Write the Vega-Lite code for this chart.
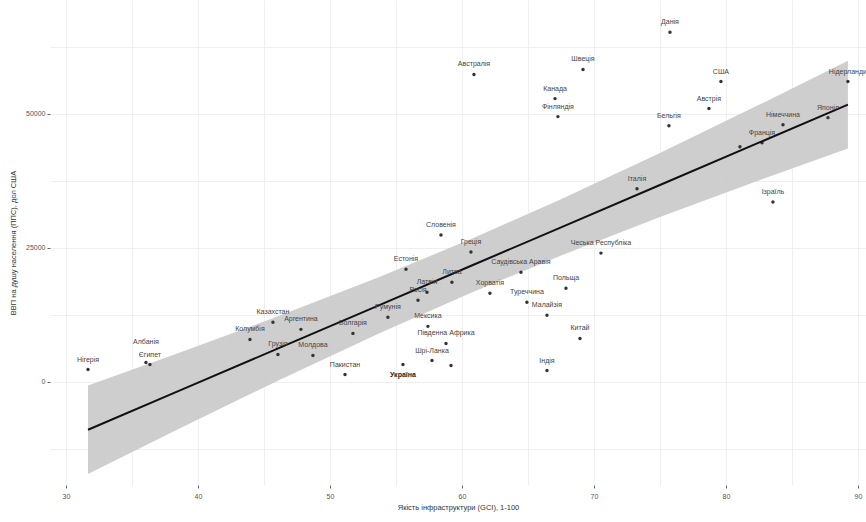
{
  "$schema": "https://vega.github.io/schema/vega-lite/v6.json",
  "width": 816,
  "height": 485,
  "autosize": {"type": "none"},
  "padding": {"left": 50, "top": 0, "right": 0, "bottom": 37},
  "background": "white",
  "config": {
    "view": {"stroke": null},
    "font": "Liberation Sans",
    "axis": {
      "domain": false,
      "gridColor": "#ebebeb",
      "gridWidth": 0.8,
      "tickColor": "#666666",
      "tickSize": 3,
      "labelFont": "Liberation Sans",
      "labelFontSize": 7,
      "labelColor": "#555555",
      "titleFont": "Liberation Sans",
      "titleFontSize": 7.5,
      "titleFontWeight": "normal",
      "titleColor": "#333333"
    }
  },
  "datasets": {
    "pts": [
      {"country": "Данія", "infra": 75.76, "gdp": 65170},
      {"country": "США", "infra": 79.62, "gdp": 55990},
      {"country": "Австрія", "infra": 78.71, "gdp": 50940},
      {"country": "Бельгія", "infra": 75.68, "gdp": 47750},
      {"country": "Нідерланди", "infra": 89.24, "gdp": 55990},
      {"country": "Німеччина", "infra": 84.32, "gdp": 47940},
      {"country": "Японія", "infra": 87.73, "gdp": 49250},
      {"country": "Франція", "infra": 82.73, "gdp": 44570},
      {"country": "", "infra": 81.06, "gdp": 43820},
      {"country": "Італія", "infra": 73.26, "gdp": 35960},
      {"country": "Ізраїль", "infra": 83.56, "gdp": 33520},
      {"country": "Австралія", "infra": 60.91, "gdp": 57300},
      {"country": "Швеція", "infra": 69.17, "gdp": 58240},
      {"country": "Канада", "infra": 67.05, "gdp": 52800},
      {"country": "Фінляндія", "infra": 67.27, "gdp": 49440},
      {"country": "Словенія", "infra": 58.41, "gdp": 27340},
      {"country": "Греція", "infra": 60.68, "gdp": 24160},
      {"country": "Естонія", "infra": 55.76, "gdp": 20970},
      {"country": "Чеська Республіка", "infra": 70.53, "gdp": 23970},
      {"country": "Саудівська Аравія", "infra": 64.47, "gdp": 20410},
      {"country": "Польща", "infra": 67.88, "gdp": 17420},
      {"country": "Хорватія", "infra": 62.12, "gdp": 16480},
      {"country": "Туреччина", "infra": 64.92, "gdp": 14790},
      {"country": "Малайзія", "infra": 66.44, "gdp": 12360},
      {"country": "Китай", "infra": 68.94, "gdp": 8050},
      {"country": "Індія", "infra": 66.44, "gdp": 2060},
      {"country": "Литва", "infra": 59.24, "gdp": 18540},
      {"country": "Латвія", "infra": 57.35, "gdp": 16670},
      {"country": "Росія", "infra": 56.67, "gdp": 15170},
      {"country": "Мексика", "infra": 57.42, "gdp": 10300},
      {"country": "Південна Африка", "infra": 58.79, "gdp": 7120},
      {"country": "Шрі-Ланка", "infra": 57.73, "gdp": 3930},
      {"country": "", "infra": 59.17, "gdp": 3000},
      {"country": "Україна", "infra": 55.53, "gdp": 3180},
      {"country": "Румунія", "infra": 54.39, "gdp": 11990},
      {"country": "Болгарія", "infra": 51.74, "gdp": 8990},
      {"country": "Казахстан", "infra": 45.68, "gdp": 11050},
      {"country": "Аргентина", "infra": 47.8, "gdp": 9740},
      {"country": "Колумбія", "infra": 43.94, "gdp": 7870},
      {"country": "Грузія", "infra": 46.06, "gdp": 5060},
      {"country": "Молдова", "infra": 48.71, "gdp": 4870},
      {"country": "Пакистан", "infra": 51.14, "gdp": 1310},
      {"country": "Албанія", "infra": 36.06, "gdp": 3560},
      {"country": "Єгипет", "infra": 36.36, "gdp": 3180},
      {"country": "Нігерія", "infra": 31.67, "gdp": 2250}
    ],
    "band": [
      {"infra": 31.67, "fit": -8989, "lo": -17229, "hi": -749},
      {"infra": 38.64, "fit": -1643, "lo": -8697, "hi": 5411},
      {"infra": 46.21, "fit": 6336, "lo": 362, "hi": 12310},
      {"infra": 53.79, "fit": 14325, "lo": 9082, "hi": 19568},
      {"infra": 60.61, "fit": 21514, "lo": 16503, "hi": 26525},
      {"infra": 67.42, "fit": 28692, "lo": 23449, "hi": 33935},
      {"infra": 75.0, "fit": 36681, "lo": 30707, "hi": 42655},
      {"infra": 82.58, "fit": 44670, "lo": 37616, "hi": 51724},
      {"infra": 89.24, "fit": 51690, "lo": 43506, "hi": 59874}
    ]
  },
  "layer": [
    {
      "data": {"name": "band"},
      "mark": {"type": "area", "color": "#c9c9c9", "opacity": 0.9},
      "encoding": {
        "x": {
          "field": "infra", "type": "quantitative",
          "scale": {"domain": [28.79, 90.61], "nice": false, "zero": false},
          "axis": {
            "values": [30, 35, 40, 45, 50, 55, 60, 65, 70, 75, 80, 85, 90],
            "labelExpr": "datum.value % 10 === 0 ? datum.label : ''",
            "tickOpacity": {"condition": {"test": "datum.value % 10 === 0", "value": 1}, "value": 0},
            "labelPadding": 4,
            "title": "Якість інфраструктури (GCI), 1-100",
            "titlePadding": 4
          }
        },
        "y": {
          "field": "lo", "type": "quantitative",
          "scale": {"domain": [-19300, 71200], "nice": false, "zero": false},
          "axis": {
            "values": [-12500, 0, 12500, 25000, 37500, 50000, 62500],
            "labelExpr": "datum.value % 25000 === 0 ? '' + datum.value : ''",
            "tickOpacity": {"condition": {"test": "datum.value % 25000 === 0", "value": 1}, "value": 0},
            "labelPadding": 2,
            "title": "ВВП на душу населення (ППС), дол США",
            "titlePadding": 8
          }
        },
        "y2": {"field": "hi"}
      }
    },
    {
      "data": {"name": "pts"},
      "mark": {"type": "circle", "size": 12, "color": "#333333", "opacity": 1},
      "encoding": {
        "x": {"field": "infra", "type": "quantitative"},
        "y": {"field": "gdp", "type": "quantitative"}
      }
    },
    {
      "data": {"name": "band"},
      "mark": {"type": "line", "color": "#111111", "strokeWidth": 2},
      "encoding": {
        "x": {"field": "infra", "type": "quantitative"},
        "y": {"field": "fit", "type": "quantitative"}
      }
    },
    {
      "data": {"name": "pts"},
      "transform": [{"filter": "datum.country !== 'Україна' && datum.country !== 'Албанія'"}],
      "mark": {"type": "text", "fontSize": 7, "color": "#444444", "dy": -10, "font": "Liberation Sans"},
      "encoding": {
        "x": {"field": "infra", "type": "quantitative"},
        "y": {"field": "gdp", "type": "quantitative"},
        "text": {"field": "country"}
      }
    },
    {
      "data": {"name": "pts"},
      "transform": [{"filter": "datum.country === 'Албанія'"}],
      "mark": {"type": "text", "fontSize": 7, "color": "#444444", "dy": -20, "font": "Liberation Sans"},
      "encoding": {
        "x": {"field": "infra", "type": "quantitative"},
        "y": {"field": "gdp", "type": "quantitative"},
        "text": {"field": "country"}
      }
    },
    {
      "data": {"name": "pts"},
      "transform": [{"filter": "datum.country === 'Україна'"}],
      "mark": {"type": "text", "fontSize": 7, "color": "#222222", "dy": 10, "fontWeight": "bold", "font": "Liberation Sans"},
      "encoding": {
        "x": {"field": "infra", "type": "quantitative"},
        "y": {"field": "gdp", "type": "quantitative"},
        "text": {"field": "country"}
      }
    }
  ]
}
